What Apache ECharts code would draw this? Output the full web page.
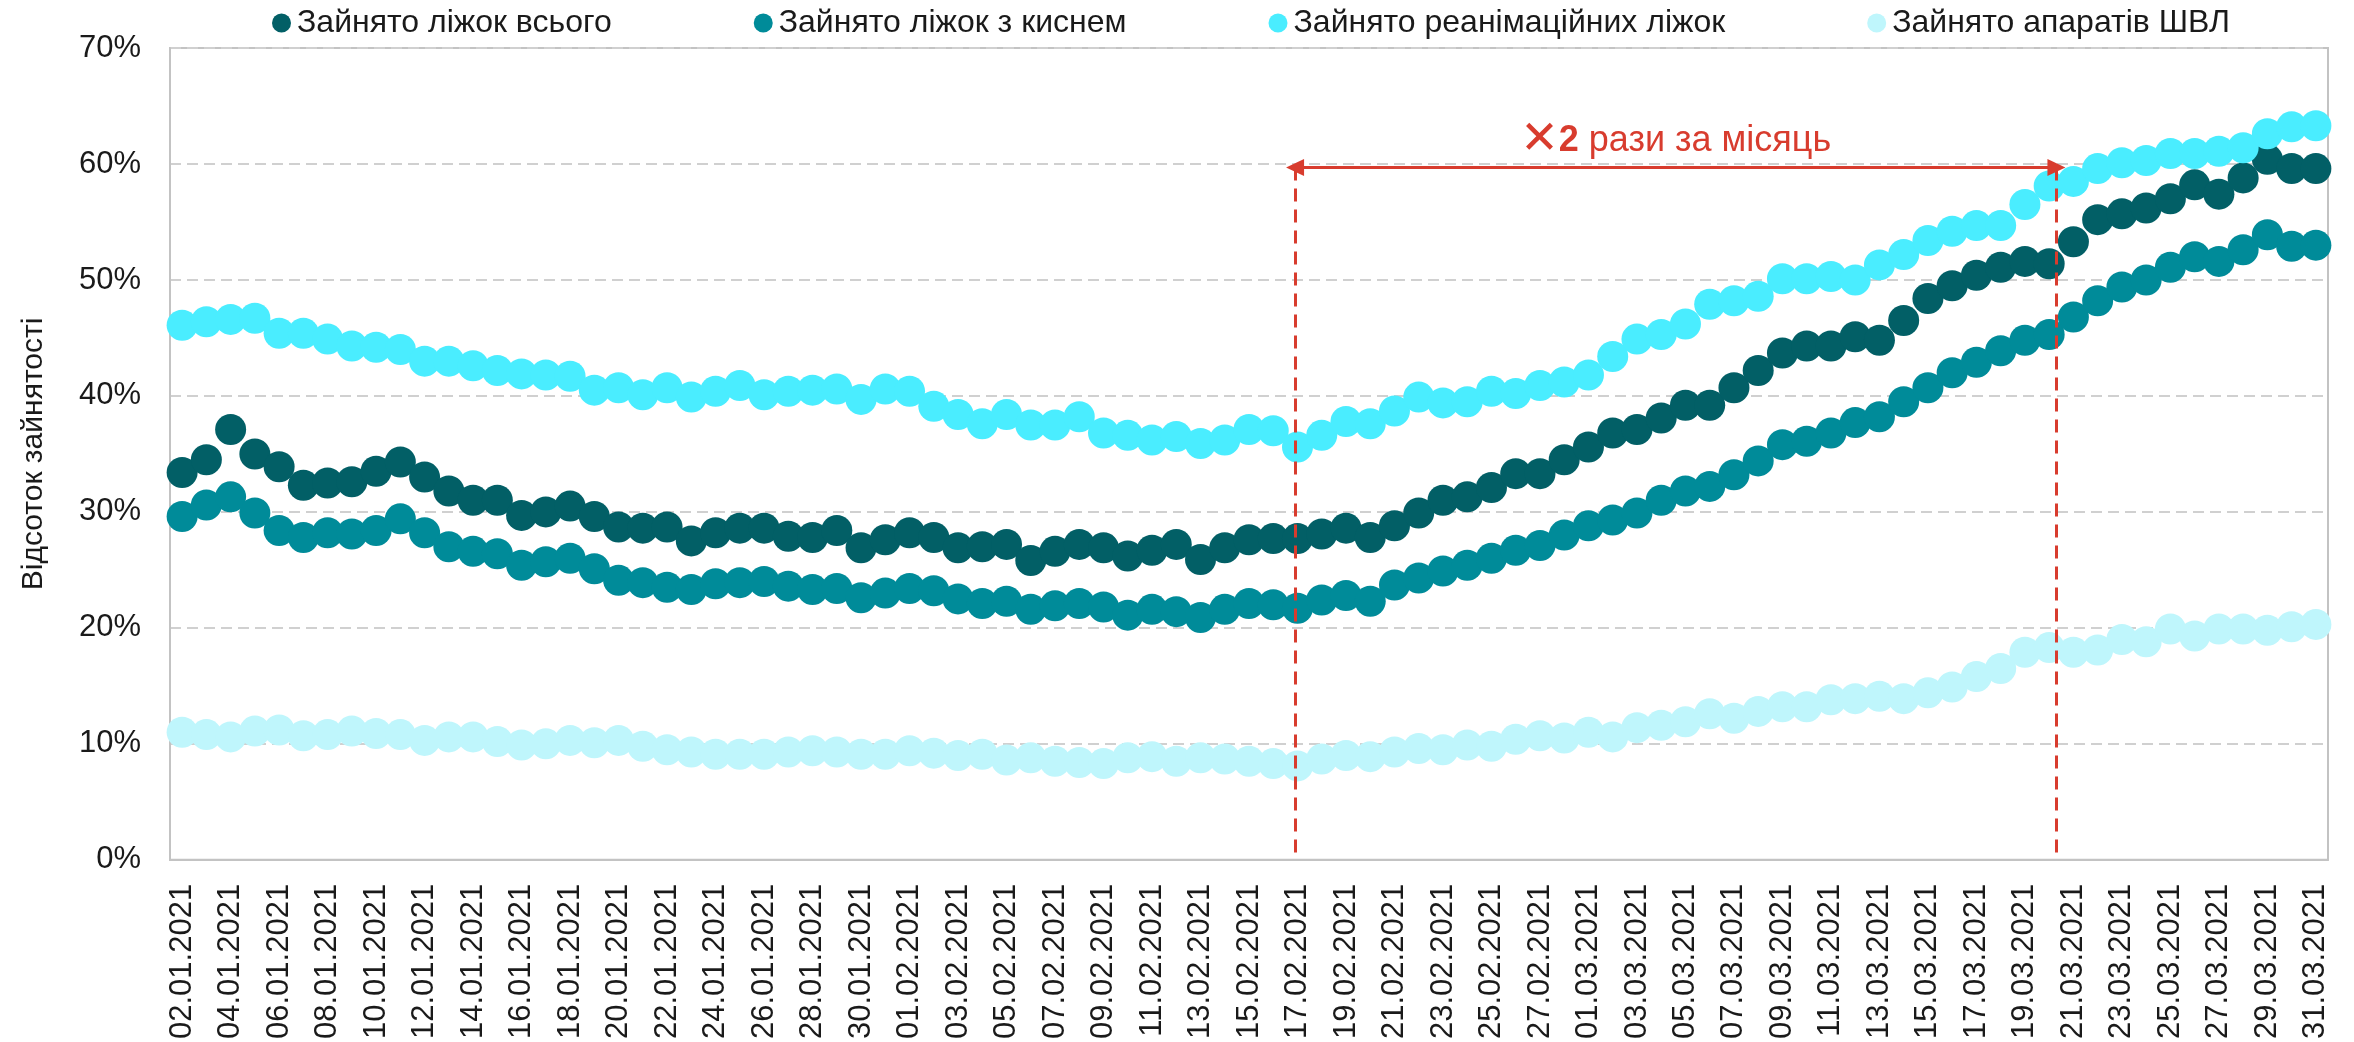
<!DOCTYPE html>
<html>
<head>
<meta charset="utf-8">
<script src="https://cdn.jsdelivr.net/npm/echarts@6/dist/echarts.min.js"></script>
<style>
  html, body { margin: 0; padding: 0; background: #fff; }
  #charts { width: 2354px; height: 1042px; }
</style>
</head>
<body>
<div id="charts"></div>
<script>
// дати (щодня, підпис через день)
var dates = [
  '02.01.2021','03.01.2021','04.01.2021','05.01.2021','06.01.2021','07.01.2021','08.01.2021','09.01.2021','10.01.2021','11.01.2021',
  '12.01.2021','13.01.2021','14.01.2021','15.01.2021','16.01.2021','17.01.2021','18.01.2021','19.01.2021','20.01.2021','21.01.2021',
  '22.01.2021','23.01.2021','24.01.2021','25.01.2021','26.01.2021','27.01.2021','28.01.2021','29.01.2021','30.01.2021','31.01.2021',
  '01.02.2021','02.02.2021','03.02.2021','04.02.2021','05.02.2021','06.02.2021','07.02.2021','08.02.2021','09.02.2021','10.02.2021',
  '11.02.2021','12.02.2021','13.02.2021','14.02.2021','15.02.2021','16.02.2021','17.02.2021','18.02.2021','19.02.2021','20.02.2021',
  '21.02.2021','22.02.2021','23.02.2021','24.02.2021','25.02.2021','26.02.2021','27.02.2021','28.02.2021','01.03.2021','02.03.2021',
  '03.03.2021','04.03.2021','05.03.2021','06.03.2021','07.03.2021','08.03.2021','09.03.2021','10.03.2021','11.03.2021','12.03.2021',
  '13.03.2021','14.03.2021','15.03.2021','16.03.2021','17.03.2021','18.03.2021','19.03.2021','20.03.2021','21.03.2021','22.03.2021',
  '23.03.2021','24.03.2021','25.03.2021','26.03.2021','27.03.2021','28.03.2021','29.03.2021','30.03.2021','31.03.2021'
];

var names = ['Зайнято ліжок всього', 'Зайнято ліжок з киснем', 'Зайнято реанімаційних ліжок', 'Зайнято апаратів ШВЛ'];

// відсотки зайнятості
var bedsTotal = [
  33.4, 34.5, 37.1, 35.0, 33.9, 32.3, 32.5, 32.6, 33.5, 34.3,
  33.0, 31.8, 31.0, 31.0, 29.7, 30.0, 30.5, 29.6, 28.7, 28.6,
  28.7, 27.5, 28.2, 28.6, 28.6, 27.9, 27.8, 28.4, 26.9, 27.6,
  28.2, 27.8, 26.9, 27.0, 27.2, 25.8, 26.6, 27.2, 26.9, 26.2,
  26.7, 27.2, 25.9, 26.9, 27.6, 27.7, 27.7, 28.1, 28.6, 27.8,
  28.8, 29.9, 31.0, 31.3, 32.1, 33.3, 33.3, 34.5, 35.6, 36.8,
  37.1, 38.1, 39.2, 39.2, 40.7, 42.2, 43.7, 44.3, 44.3, 45.1,
  44.8, 46.5, 48.4, 49.5, 50.4, 51.1, 51.6, 51.4, 53.3, 55.2,
  55.7, 56.2, 57.0, 58.2, 57.4, 58.8, 60.4, 59.6, 59.6
];
var bedsOxygen = [
  29.6, 30.6, 31.3, 29.9, 28.4, 27.8, 28.2, 28.1, 28.4, 29.4,
  28.2, 27.0, 26.6, 26.4, 25.4, 25.7, 26.0, 25.1, 24.1, 23.9,
  23.5, 23.3, 23.8, 23.9, 24.0, 23.6, 23.3, 23.4, 22.6, 23.0,
  23.4, 23.2, 22.5, 22.1, 22.3, 21.6, 21.9, 22.1, 21.8, 21.1,
  21.6, 21.4, 20.9, 21.6, 22.1, 22.0, 21.7, 22.4, 22.8, 22.3,
  23.7, 24.3, 24.9, 25.4, 26.0, 26.7, 27.1, 28.0, 28.8, 29.3,
  29.9, 31.0, 31.8, 32.2, 33.2, 34.4, 35.8, 36.1, 36.8, 37.7,
  38.2, 39.5, 40.7, 42.0, 42.9, 43.9, 44.8, 45.3, 46.8, 48.2,
  49.4, 50.0, 51.1, 52.0, 51.6, 52.6, 53.9, 52.9, 53.0
];
var bedsIcu = [
  46.1, 46.4, 46.6, 46.7, 45.4, 45.4, 44.9, 44.3, 44.2, 44.0,
  43.0, 43.0, 42.6, 42.2, 41.9, 41.8, 41.7, 40.5, 40.7, 40.1,
  40.7, 39.9, 40.4, 40.9, 40.1, 40.4, 40.5, 40.6, 39.7, 40.6,
  40.4, 39.1, 38.4, 37.6, 38.4, 37.5, 37.5, 38.2, 36.8, 36.6,
  36.2, 36.5, 35.9, 36.2, 37.1, 37.0, 35.6, 36.6, 37.8, 37.6,
  38.7, 39.9, 39.4, 39.5, 40.4, 40.2, 40.9, 41.2, 41.8, 43.4,
  44.9, 45.3, 46.2, 47.9, 48.2, 48.6, 50.1, 50.1, 50.3, 50.0,
  51.3, 52.2, 53.4, 54.2, 54.7, 54.7, 56.5, 58.1, 58.5, 59.6,
  60.1, 60.3, 60.9, 60.9, 61.1, 61.4, 62.6, 63.2, 63.3
];
var ventilators = [
  11.0, 10.8, 10.6, 11.1, 11.2, 10.7, 10.8, 11.1, 10.9, 10.8,
  10.3, 10.6, 10.6, 10.2, 9.9, 10.0, 10.3, 10.1, 10.3, 9.8,
  9.5, 9.3, 9.1, 9.1, 9.1, 9.3, 9.4, 9.3, 9.1, 9.1,
  9.4, 9.2, 9.0, 9.1, 8.6, 8.8, 8.5, 8.4, 8.3, 8.8,
  8.9, 8.5, 8.8, 8.7, 8.5, 8.3, 8.1, 8.7, 9.0, 8.9,
  9.3, 9.6, 9.5, 9.9, 9.8, 10.4, 10.7, 10.5, 11.0, 10.6,
  11.4, 11.6, 11.9, 12.6, 12.2, 12.8, 13.2, 13.2, 13.8, 13.9,
  14.1, 13.9, 14.4, 14.9, 15.8, 16.5, 17.9, 18.3, 17.9, 18.1,
  19.0, 18.8, 19.9, 19.3, 19.9, 19.9, 19.8, 20.1, 20.3
];

var colors = ['#025f66', '#008b99', '#4aedff', '#bff6fc'];
var yTicks = { min: 0, max: 70, step: 10 };

// анотація "х2 рази за місяць" (позиції в індексах дат)
var markFrom = 45.9, markTo = 77.3, markLevel = 59.7;
var red = '#d83c2e';

var font = 'Arial, "Liberation Sans", sans-serif';

var chart = echarts.init(document.getElementById('charts'));

function makeSeries(name, data, color) {
    return {
        name: name,
        type: 'line',
        data: data,
        symbol: 'circle',
        symbolSize: 31,
        showSymbol: true,
        showAllSymbol: true,
        lineStyle: { width: 0 },
        itemStyle: { color: color },
        emphasis: { disabled: true },
        silent: true
    };
}

var dashed = { color: red, width: 3, type: [13, 8] };

var option = {
    animation: false,
    textStyle: { fontFamily: font },
    color: colors,
    legend: {
        data: names,
        top: 2,
        left: 267,
        icon: 'circle',
        itemWidth: 21,
        itemHeight: 19,
        itemGap: 142,
        textStyle: { fontSize: 32, color: '#1a1a1a', fontFamily: font }
    },
    grid: {
        left: 170, right: 26, top: 48, bottom: 182,
        show: true, borderColor: '#c3c3c3', borderWidth: 2
    },
    xAxis: [{
        type: 'category',
        data: dates,
        boundaryGap: true,
        position: 'bottom',
        axisLine: { lineStyle: { color: '#c3c3c3', width: 2 } },
        axisTick: { interval: 1, length: 10, lineStyle: { color: '#c3c3c3', width: 2 } },
        axisLabel: { interval: 1, rotate: 90, fontSize: 31, color: '#1a1a1a', margin: 24, fontFamily: font },
        splitLine: { show: false }
    }, {
        type: 'category',
        data: dates,
        boundaryGap: true,
        position: 'bottom',
        axisLine: { show: false },
        axisTick: { inside: true, interval: 1, length: 10, lineStyle: { color: '#c3c3c3', width: 2 } },
        axisLabel: { show: false },
        splitLine: { show: false }
    }, {
        type: 'value',
        min: -0.5,
        max: dates.length - 0.5,
        show: false
    }],
    yAxis: {
        type: 'value',
        min: yTicks.min,
        max: yTicks.max,
        interval: yTicks.step,
        name: 'Відсоток зайнятості',
        nameLocation: 'middle',
        nameGap: 121,
        nameTextStyle: { fontSize: 30, color: '#1a1a1a', fontFamily: font },
        axisLine: { show: true, onZero: false, lineStyle: { color: '#c3c3c3', width: 2 } },
        axisTick: { show: false },
        axisLabel: { formatter: '{value}%', fontSize: 31, color: '#1a1a1a', margin: 29, fontFamily: font },
        splitLine: { lineStyle: { color: '#d0d0d0', width: 2, type: [11, 6] } }
    },
    series: [
        makeSeries(names[0], bedsTotal, colors[0]),
        makeSeries(names[1], bedsOxygen, colors[1]),
        makeSeries(names[2], bedsIcu, colors[2]),
        makeSeries(names[3], ventilators, colors[3]),
        {
            name: 'annotation',
            type: 'line',
            xAxisIndex: 2,
            data: [],
            silent: true,
            markLine: {
                silent: true,
                animation: false,
                data: [
                    [{ coord: [markFrom, markLevel], symbol: 'none', lineStyle: dashed, label: { show: false } },
                     { coord: [markFrom, 0], symbol: 'none' }],
                    [{ coord: [markTo, markLevel], symbol: 'none', lineStyle: dashed, label: { show: false } },
                     { coord: [markTo, 0], symbol: 'none' }],
                    [{
                        coord: [markFrom, markLevel], symbol: 'triangle', symbolSize: [17, 18],
                        lineStyle: { color: red, width: 3, type: 'solid' },
                        label: {
                            show: true,
                            position: 'middle',
                            distance: 3,
                            formatter: '{x|✕}{b|2} рази за місяць',
                            color: red,
                            fontSize: 36,
                            fontFamily: font,
                            rich: {
                                x: { fontSize: 46, color: red, fontFamily: '"DejaVu Sans", sans-serif' },
                                b: { fontSize: 36, color: red, fontWeight: 'bold', fontFamily: font }
                            }
                        }
                    }, { coord: [markTo, markLevel], symbol: 'triangle', symbolSize: [17, 18] }]
                ]
            }
        }
    ]
};

chart.setOption(option);
</script>
</body>
</html>
